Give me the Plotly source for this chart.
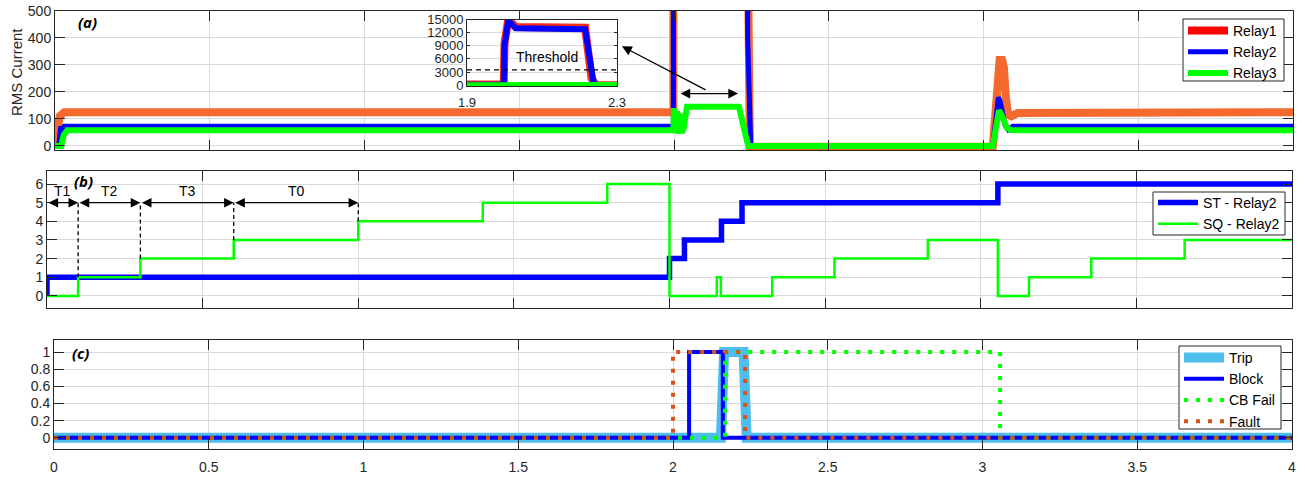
import plotly.graph_objects as go

# ---------------- (a) RMS current of the three relays ----------------
t_relay1 = [0, 0.008, 0.015, 0.03, 1.998, 2.0, 2.01, 2.03, 2.215, 2.232, 2.245,
            3.03, 3.038, 3.045, 3.052, 3.06, 3.066, 3.072, 3.08, 3.09, 3.11, 4.0]
i_relay1 = [0, 90, 110, 125, 125, 9500, 15000, 13300, 13100, 1500, -3,
            -3, 150, 290, 318, 318, 290, 180, 115, 110, 122, 125]

t_relay2 = [0, 0.012, 0.018, 0.024, 0.03, 1.998, 2.0, 2.01, 2.03, 2.215, 2.238, 2.248,
            3.03, 3.042, 3.048, 3.054, 3.062, 3.07, 3.08, 3.095, 4.0]
i_relay2 = [0, 0, 65, 65, 73, 73, 9000, 14800, 13000, 12800, 400, 0,
            0, 110, 180, 165, 120, 75, 60, 73, 73]

t_relay3 = [0, 0.02, 0.028, 0.04, 1.998, 2.0, 2.005, 2.01, 2.015, 2.02, 2.025, 2.03, 2.042,
            2.21, 2.225, 2.24, 3.03, 3.042, 3.05, 3.06, 3.075, 3.09, 4.0]
i_relay3 = [0, 0, 40, 58, 58, 140, 60, 130, 45, 120, 50, 60, 145,
            145, 70, 0, 0, 100, 132, 110, 68, 58, 58]

threshold = 3500
inset_ticks = [0, 3000, 6000, 9000, 12000, 15000]

# ---------------- (b) stage counters of Relay2 ----------------
t_st = [0, 0, 2.0, 2.048, 2.167, 2.233, 3.055, 4.0]
st_relay2 = [0, 1, 2, 3, 4, 5, 6, 6]

t_sq = [0, 0.1, 0.3, 0.6, 1.0, 1.4, 1.8, 2.0, 2.152, 2.165, 2.33, 2.53, 2.83,
        3.055, 3.155, 3.355, 3.655, 4.0]
sq_relay2 = [0, 1, 2, 3, 4, 5, 6, 0, 1, 0, 1, 2, 3, 0, 1, 2, 3, 3]

stage_bounds = [0, 0.1, 0.3, 0.6, 1.0]
stage_names = ["T1", "T2", "T3", "T0"]
stage_levels = [1, 2, 3, 4]

# ---------------- (c) logic signals ----------------
t_trip = [0, 2.155, 2.165, 2.228, 2.238, 4.0]
trip = [0, 0, 1, 1, 0, 0]
t_block = [0, 2.052, 2.161, 4.0]
block = [0, 1, 0, 0]
t_cbfail = [0, 2.168, 3.057, 4.0]
cbfail = [0, 1, 0, 0]
t_fault = [0, 2.0, 2.233, 4.0]
fault = [0, 1, 0, 0]

# ---------------- styling ----------------
W, H = 1305, 477
FONT = "Liberation Sans, Arial, Helvetica, sans-serif"
AX = "#262626"
GRID = "#dadada"
ORANGE = "#F5682E"
BLUE = "#0000FF"
GREEN = "#00FF00"


def dom_x(left, right):
    return [left / W, right / W]


def dom_y(top, bottom):
    return [1 - bottom / H, 1 - top / H]


def axis_style(**kw):
    base = dict(showline=True, linecolor=AX, linewidth=1, mirror="ticks",
                ticks="inside", ticklen=10, tickcolor=AX, tickwidth=1,
                showgrid=True, gridcolor=GRID, gridwidth=1, zeroline=False,
                automargin=False,
                tickfont=dict(family=FONT, size=14, color=AX))
    base.update(kw)
    return base


fig = go.Figure()

# (a) main view
fig.add_trace(go.Scatter(x=[None], y=[None], mode="lines", name="Relay1",
                         line=dict(color="#FF0000", width=8), legend="legend"))
fig.add_trace(go.Scatter(x=t_relay1, y=i_relay1, mode="lines", showlegend=False,
                         line=dict(color=ORANGE, width=8), xaxis="x", yaxis="y"))
fig.add_trace(go.Scatter(x=t_relay2, y=i_relay2, mode="lines", name="Relay2",
                         line=dict(color=BLUE, width=5), xaxis="x", yaxis="y", legend="legend"))
fig.add_trace(go.Scatter(x=t_relay3, y=i_relay3, mode="lines", name="Relay3",
                         line=dict(color=GREEN, width=6), xaxis="x", yaxis="y", legend="legend"))

# (a) inset, same series on a zoomed scale
for tt, vv, col, w in [(t_relay1, i_relay1, "#FF2A1A", 8), (t_relay2, i_relay2, BLUE, 6),
                       (t_relay3, i_relay3, GREEN, 5)]:
    fig.add_trace(go.Scatter(x=tt, y=vv, mode="lines", showlegend=False,
                             line=dict(color=col, width=w), xaxis="x4", yaxis="y4"))

# (b)
fig.add_trace(go.Scatter(x=t_st, y=st_relay2, mode="lines", name="ST - Relay2", line_shape="hv",
                         line=dict(color=BLUE, width=5.5), xaxis="x2", yaxis="y2", legend="legend2"))
fig.add_trace(go.Scatter(x=t_sq, y=sq_relay2, mode="lines", name="SQ - Relay2", line_shape="hv",
                         line=dict(color=GREEN, width=2.5), xaxis="x2", yaxis="y2", legend="legend2"))

# (c)
DOT = "4px,8px"
fig.add_trace(go.Scatter(x=t_trip, y=trip, mode="lines", name="Trip",
                         line=dict(color="#4DBEEE", width=10), xaxis="x3", yaxis="y3", legend="legend3"))
fig.add_trace(go.Scatter(x=t_block, y=block, mode="lines", name="Block", line_shape="hv",
                         line=dict(color=BLUE, width=4), xaxis="x3", yaxis="y3", legend="legend3"))
fig.add_trace(go.Scatter(x=t_cbfail, y=cbfail, mode="lines", name="CB Fail", line_shape="hv",
                         line=dict(color=GREEN, width=4, dash=DOT), xaxis="x3", yaxis="y3", legend="legend3"))
fig.add_trace(go.Scatter(x=t_fault, y=fault, mode="lines", name="Fault", line_shape="hv",
                         line=dict(color="#D95319", width=4, dash=DOT), xaxis="x3", yaxis="y3", legend="legend3"))

xt = [0, 0.5, 1, 1.5, 2, 2.5, 3, 3.5, 4]

annotations = []
shapes = []

# stage timing arrows in (b)
for k, name in enumerate(stage_names):
    a, b = stage_bounds[k], stage_bounds[k + 1]
    annotations.append(dict(x=b, y=5, ax=a, ay=5, xref="x2", yref="y2", axref="x2", ayref="y2",
                            text="", showarrow=True, arrowside="end+start", arrowhead=2,
                            arrowsize=1.6, arrowwidth=1.2, arrowcolor="black"))
    annotations.append(dict(x=(a + b) / 2, y=5.6, xref="x2", yref="y2", text=name, showarrow=False,
                            font=dict(family=FONT, size=14, color="black")))
    shapes.append(dict(type="line", xref="x2", yref="y2", x0=b, x1=b, y0=stage_levels[k], y1=5,
                       line=dict(color="black", width=1.3, dash="4px,3px")))

# arrows in (a)
annotations.append(dict(x=1.832, y=369, ax=2.107, ay=205, xref="x", yref="y", axref="x", ayref="y",
                        text="", showarrow=True, arrowhead=2, arrowsize=1.5, arrowwidth=1.3,
                        arrowcolor="black"))
annotations.append(dict(x=2.207, y=194, ax=2.016, ay=194, xref="x", yref="y", axref="x", ayref="y",
                        text="", showarrow=True, arrowside="end+start", arrowhead=2, arrowsize=1.5,
                        arrowwidth=1.3, arrowcolor="black"))

# threshold in the inset
shapes.append(dict(type="line", xref="x4", yref="y4", x0=1.9, x1=2.3, y0=threshold, y1=threshold,
                   line=dict(color="black", width=1.2, dash="5px,4px")))
annotations.append(dict(x=2.113, y=6500, xref="x4", yref="y4", text="Threshold", showarrow=False,
                        font=dict(family=FONT, size=14, color="black")))

# panel tags and y title
for tag, px, py in [("(a)", 88, 22), ("(b)", 83, 181), ("(c)", 80, 353)]:
    annotations.append(dict(x=px / W, y=1 - py / H, xref="paper", yref="paper",
                            xanchor="center", yanchor="middle", text=f"<b><i>{tag}</i></b>",
                            showarrow=False, font=dict(family="Open Sans, sans-serif", size=15, color="black")))
annotations.append(dict(x=17 / W, y=1 - 72 / H, xref="paper", yref="paper", xanchor="center",
                        yanchor="middle", text="RMS Current", textangle=-90, showarrow=False,
                        font=dict(family=FONT, size=15, color=AX)))


# legend frames drawn as shapes, legends sit transparent on top of them
def legend_frame(left, right, top, bottom):
    shapes.append(dict(type="rect", xref="paper", yref="paper", layer="above",
                       x0=left / W, x1=right / W, y0=1 - bottom / H, y1=1 - top / H,
                       fillcolor="white", line=dict(color=AX, width=1)))


def legend_box(left, first_item_y):
    return dict(x=left / W, y=1 - (first_item_y - 15) / H, xanchor="left", yanchor="top",
                bgcolor="rgba(0,0,0,0)", borderwidth=0, itemwidth=40, tracegroupgap=0,
                font=dict(family=FONT, size=14, color="black"))


legend_frame(1183, 1284, 19, 81)
legend_frame(1153, 1285, 192, 235)
legend_frame(1179, 1281, 346, 429)

fig.update_layout(
    width=W, height=H, margin=dict(l=0, r=0, t=0, b=0, autoexpand=False),
    paper_bgcolor="white", plot_bgcolor="white",
    xaxis=axis_style(domain=dom_x(55, 1293), range=[0, 4], tickvals=xt, showticklabels=False, anchor="y"),
    yaxis=axis_style(domain=dom_y(11, 150), range=[-15, 500], tickvals=[0, 100, 200, 300, 400, 500], anchor="x"),
    xaxis2=axis_style(domain=dom_x(47, 1292), range=[0, 4], tickvals=xt, showticklabels=False, anchor="y2"),
    yaxis2=axis_style(domain=dom_y(171, 308), range=[-0.65, 6.7], tickvals=[0, 1, 2, 3, 4, 5, 6], anchor="x2"),
    xaxis3=axis_style(domain=dom_x(54, 1292), range=[0, 4], tickvals=xt, ticklabelstandoff=5, anchor="y3"),
    yaxis3=axis_style(domain=dom_y(340, 449), range=[-0.13, 1.14], tickvals=[0, 0.2, 0.4, 0.6, 0.8, 1], anchor="x3"),
    xaxis4=axis_style(domain=dom_x(467, 617), range=[1.9, 2.3], tickvals=[1.9, 2.3], showgrid=False,
                      ticklen=3, ticklabelstandoff=4, anchor="y4",
                      tickfont=dict(family=FONT, size=13, color=AX)),
    yaxis4=axis_style(domain=dom_y(19.5, 86), range=[-200, 15000],
                      tickvals=inset_ticks, ticktext=[str(v) for v in inset_ticks], ticklen=3, anchor="x4",
                      tickfont=dict(family=FONT, size=13, color=AX)),
    legend=legend_box(1183, 30),
    legend2=legend_box(1153, 202),
    legend3=legend_box(1179, 357),
    annotations=annotations,
    shapes=shapes,
    showlegend=True,
)

fig.write_html("out.html")
